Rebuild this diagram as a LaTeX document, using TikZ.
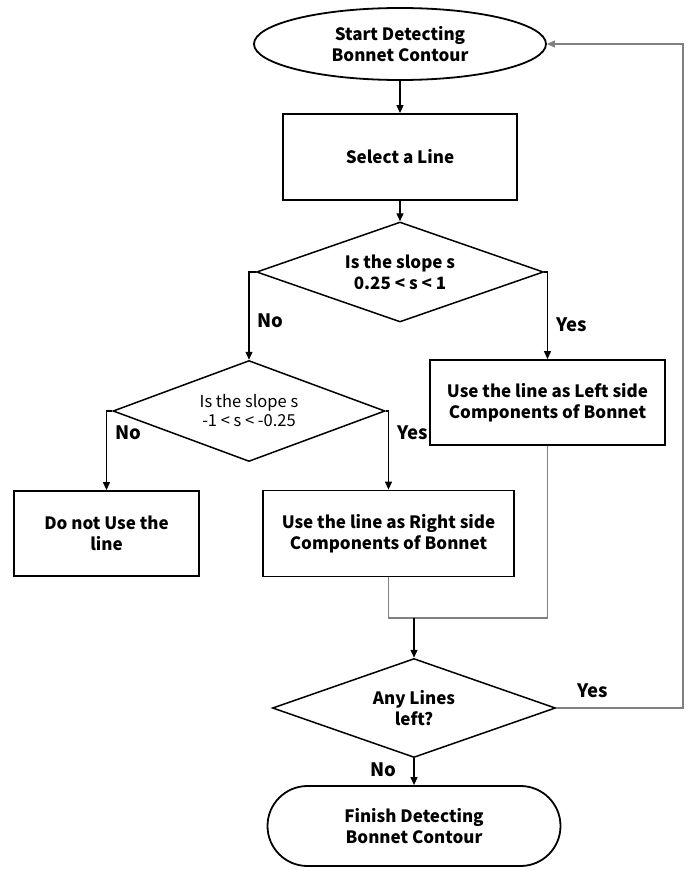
\documentclass[tikz,border=0pt]{standalone}
\usepackage{fontspec}
\setmainfont{Noto Sans CJK KR}
\usetikzlibrary{shapes.geometric,arrows.meta}

\begin{document}
\begin{tikzpicture}[x=1pt,y=-1pt,line join=miter,line width=1.2pt,
    >={Triangle[length=8pt,width=7pt]}]
  \tikzstyle{block}=[draw,line width=1.8pt,align=center,inner sep=0pt,
    font=\bfseries\fontsize{17}{21}\selectfont]
  \tikzstyle{decision}=[diamond,draw,line width=1.5pt,align=center,inner sep=0pt,aspect=2.8,
    font=\bfseries\fontsize{17}{21}\selectfont]
  \tikzstyle{tag}=[inner sep=0pt,font=\bfseries\fontsize{18.5}{20}\selectfont]
  \tikzstyle{back}=[draw=black!50,line width=1.2pt]
  \useasboundingbox (0,0) rectangle (691,870);

  \node[block,ellipse,minimum width=292pt,minimum height=72pt] (start) at (400,44)
    {Start Detecting\\Bonnet Contour};
  \node[block,minimum width=234pt,minimum height=86pt] (select) at (400,157) {Select a Line};
  \node[decision,minimum width=287pt,minimum height=100pt] (d1) at (400,272)
    {Is the slope s\\0.25 < s < 1};
  \node[decision,minimum width=272pt,minimum height=101pt,
    font=\fontsize{16.5}{19}\selectfont] (d2) at (249,411) {Is the slope s\\-1 < s < -0.25};
  \node[block,minimum width=235pt,minimum height=85pt] (left) at (547.5,402.5)
    {Use the line as Left side\\Components of Bonnet};
  \node[block,minimum width=185pt,minimum height=85pt] (skip) at (106.5,533.5)
    {Do not Use the\\line};
  \node[block,minimum width=251pt,minimum height=86pt] (right) at (388.5,533.5)
    {Use the line as Right side\\Components of Bonnet};
  \node[decision,minimum width=283pt,minimum height=99pt] (d3) at (414,708)
    {Any Lines\\left?};
  \node[block,rounded corners=40pt,minimum width=293pt,minimum height=80pt] (finish) at (414,826)
    {Finish Detecting\\Bonnet Contour};
  \coordinate (merge) at (414,618);
  \coordinate (loop) at (683,708);

  \draw[->] (start) -- (select);
  \draw[->] (select) -- (d1);
  \draw[->] (d1.west) -| node[tag,right=8pt,pos=0.78] {No} (d2.north);
  \draw[->] (d1.east) -| node[tag,right=8pt,pos=0.8] {Yes} (left.north);
  \draw[->] (d2.west) -| node[tag,right=8pt,pos=0.64] {No} (skip.north);
  \draw[->] (d2.east) -| node[tag,right=8pt,pos=0.64] {Yes} (right.north);
  \draw[back] (right.south) |- (merge) -| (left.south);
  \draw[->] (merge) -- (d3.north);
  \draw[back,->] (d3.east) -- node[tag,above=10pt,pos=0.29] {Yes} (loop) |- (start.east);
  \draw[->] (d3.south) -- node[tag,left=17pt,pos=0.43] {No} (finish.north);
\end{tikzpicture}
\end{document}
